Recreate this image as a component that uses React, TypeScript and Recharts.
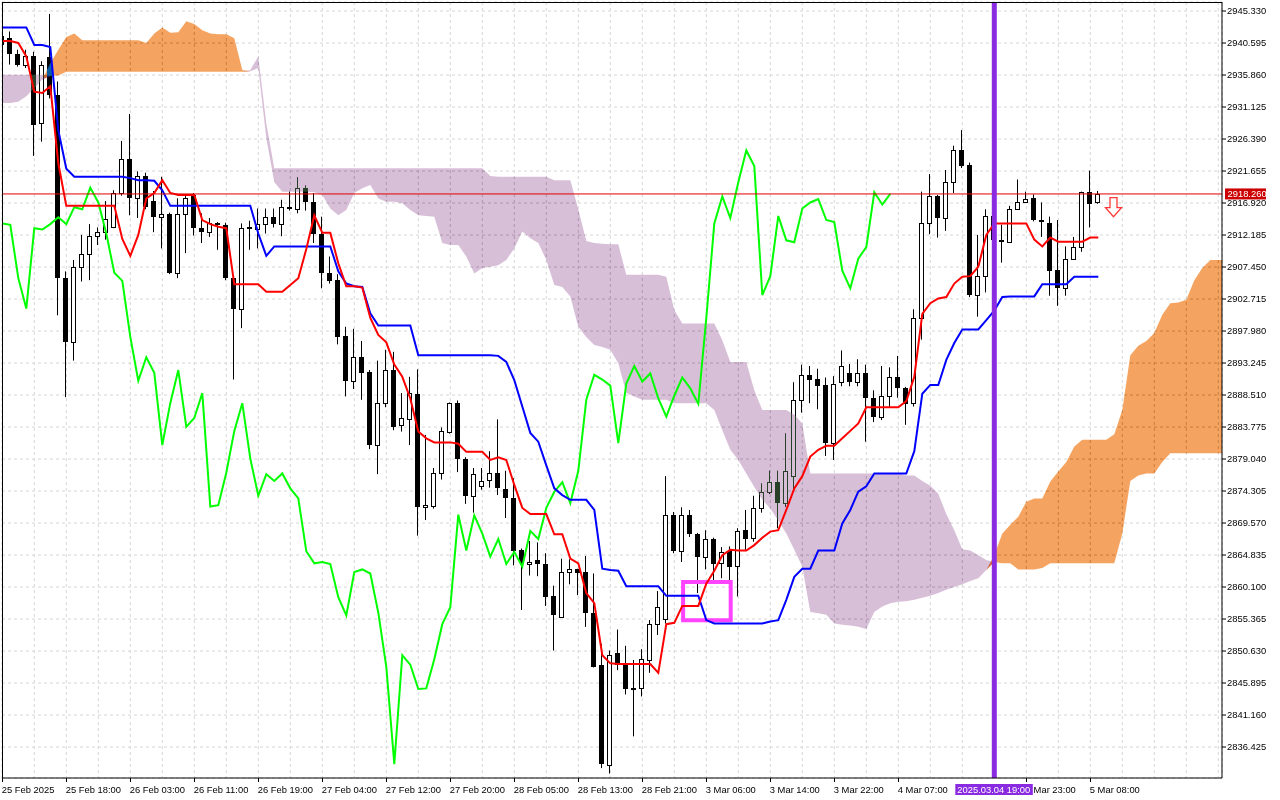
import {
  ComposedChart,
  Bar,
  Line,
  Area,
  XAxis,
  YAxis,
  CartesianGrid,
  ReferenceLine,
  ReferenceArea,
  ReferenceDot,
} from "recharts";

const FONT = '"Liberation Sans", Arial, sans-serif';

// XAUUSD H1, bar 0 = 25 Feb 2025 10:00
const opens = [
  2940.4, 2941.3, 2939.0, 2937.4, 2938.7, 2928.7, 2938.5, 2932.9, 2905.8, 2896.3,
  2907.5, 2909.3, 2912.0, 2912.6, 2913.4, 2918.4, 2923.4, 2917.7, 2920.9, 2917.2,
  2914.8, 2915.3, 2906.6, 2915.3, 2918.1, 2913.2, 2912.6, 2913.9, 2913.7, 2905.8,
  2901.3, 2913.3, 2913.0, 2913.8, 2914.8, 2913.8, 2916.3, 2916.0, 2919.2, 2917.0,
  2912.4, 2906.6, 2905.6, 2897.3, 2890.6, 2894.1, 2891.9, 2881.1, 2887.3, 2892.2,
  2884.1, 2884.9, 2888.7, 2871.9, 2872.1, 2877.0, 2883.1, 2887.3, 2879.1, 2873.6,
  2875.1, 2875.9, 2876.9, 2874.6, 2873.2, 2865.6, 2863.5, 2864.1, 2863.5, 2858.7,
  2855.7, 2862.3, 2862.7, 2862.3, 2856.3, 2848.6, 2833.8, 2850.3, 2848.6, 2845.0,
  2845.1, 2849.3, 2854.6, 2855.3, 2870.8, 2865.5, 2870.7, 2868.0, 2864.6, 2867.2,
  2863.6, 2865.4, 2863.2, 2868.5, 2867.3, 2871.8, 2874.2, 2875.6, 2872.5, 2876.5,
  2887.8, 2891.5, 2890.9, 2890.0, 2881.4, 2890.5, 2891.7, 2890.5, 2891.7, 2888.0,
  2885.2, 2888.4, 2891.1, 2889.5, 2887.3, 2899.9, 2914.0, 2917.9, 2914.7, 2920.0,
  2924.7, 2922.5, 2903.3, 2906.1, 2915.0, 2911.5, 2911.1, 2916.1, 2917.0, 2917.6,
  2914.4, 2913.9, 2907.0, 2904.3, 2908.7, 2910.4, 2918.5, 2917.0,
];
const highs = [
  2942.4, 2942.3, 2939.6, 2939.6, 2939.3, 2937.9, 2944.9, 2934.9, 2906.8, 2908.5,
  2912.2, 2913.8, 2913.3, 2917.2, 2918.8, 2926.1, 2930.1, 2921.6, 2921.4, 2918.7,
  2920.8, 2915.5, 2917.6, 2918.1, 2918.4, 2915.4, 2914.7, 2914.1, 2914.0, 2906.0,
  2913.9, 2914.3, 2916.1, 2916.1, 2916.1, 2917.4, 2918.6, 2920.7, 2919.5, 2918.4,
  2914.9, 2909.0, 2906.4, 2898.6, 2898.3, 2896.5, 2892.2, 2893.6, 2895.2, 2894.9,
  2888.8, 2891.2, 2892.3, 2882.6, 2877.7, 2883.7, 2887.4, 2887.7, 2879.3, 2877.7,
  2877.7, 2880.2, 2884.9, 2877.3, 2876.2, 2865.8, 2866.9, 2866.7, 2865.1, 2860.3,
  2864.3, 2864.2, 2862.8, 2864.7, 2862.1, 2851.7, 2850.7, 2853.8, 2851.4, 2849.3,
  2850.9, 2855.2, 2859.5, 2876.5, 2871.2, 2871.9, 2871.5, 2868.1, 2868.5, 2867.4,
  2866.0, 2866.1, 2868.8, 2871.5, 2873.6, 2875.4, 2877.3, 2877.3, 2882.8, 2890.4,
  2893.0, 2892.8, 2892.4, 2891.1, 2891.3, 2895.1, 2893.1, 2893.8, 2893.0, 2889.2,
  2892.8, 2892.6, 2894.3, 2889.7, 2901.2, 2918.6, 2921.2, 2918.1, 2921.8, 2925.4,
  2927.7, 2922.9, 2912.2, 2916.0, 2916.2, 2913.7, 2916.5, 2920.4, 2918.6, 2918.2,
  2917.0, 2914.9, 2914.4, 2910.5, 2911.9, 2918.6, 2921.7, 2918.7,
];
const lows = [
  2939.8, 2937.4, 2937.1, 2936.9, 2923.9, 2926.0, 2932.4, 2900.3, 2888.2, 2893.6,
  2905.3, 2905.5, 2910.7, 2911.5, 2913.2, 2918.0, 2915.1, 2914.7, 2916.0, 2912.6,
  2910.2, 2906.4, 2905.8, 2909.5, 2912.1, 2911.0, 2911.9, 2910.0, 2905.5, 2890.8,
  2898.4, 2910.0, 2910.2, 2912.4, 2913.3, 2912.0, 2915.8, 2915.4, 2915.8, 2911.0,
  2904.3, 2905.0, 2896.0, 2888.3, 2889.4, 2887.8, 2880.5, 2876.8, 2886.7, 2883.3,
  2883.1, 2881.1, 2867.7, 2870.0, 2871.7, 2876.0, 2882.8, 2877.1, 2872.4, 2871.1,
  2874.5, 2874.8, 2873.7, 2870.3, 2863.3, 2856.7, 2861.8, 2861.7, 2857.3, 2850.7,
  2855.6, 2860.5, 2858.9, 2854.2, 2848.2, 2833.3, 2832.5, 2847.8, 2844.2, 2838.0,
  2843.9, 2847.4, 2853.0, 2854.7, 2865.1, 2863.8, 2867.5, 2859.2, 2862.7, 2861.1,
  2861.4, 2861.1, 2858.7, 2865.6, 2866.8, 2871.1, 2873.9, 2868.8, 2872.0, 2874.2,
  2885.9, 2887.3, 2886.4, 2879.5, 2878.9, 2889.8, 2889.8, 2889.8, 2881.6, 2884.5,
  2884.8, 2886.7, 2888.1, 2884.1, 2886.8, 2896.7, 2912.3, 2911.8, 2912.8, 2918.4,
  2922.1, 2903.0, 2900.1, 2903.7, 2910.6, 2908.1, 2911.0, 2915.9, 2916.9, 2914.2,
  2911.9, 2903.2, 2901.7, 2903.2, 2908.5, 2909.7, 2913.3, 2916.8,
];
const closes = [
  2941.6, 2938.9, 2937.4, 2938.6, 2928.5, 2937.3, 2932.9, 2905.8, 2896.3, 2907.5,
  2909.3, 2912.0, 2912.6, 2914.5, 2918.4, 2923.4, 2917.7, 2920.9, 2916.4, 2914.9,
  2915.3, 2906.6, 2915.3, 2917.6, 2913.2, 2912.6, 2913.9, 2913.7, 2905.8, 2901.3,
  2913.2, 2913.0, 2913.8, 2914.8, 2913.8, 2916.3, 2916.0, 2919.2, 2917.0, 2912.4,
  2906.6, 2905.4, 2897.1, 2890.6, 2894.1, 2891.8, 2881.1, 2887.3, 2892.2, 2883.8,
  2885.1, 2888.8, 2872.0, 2872.2, 2877.0, 2883.2, 2887.3, 2879.1, 2873.6, 2876.8,
  2875.8, 2876.9, 2874.7, 2873.2, 2865.4, 2863.6, 2863.8, 2863.5, 2858.6, 2855.9,
  2862.3, 2862.7, 2862.1, 2856.3, 2848.3, 2833.9, 2850.0, 2848.6, 2845.0, 2845.1,
  2849.4, 2854.6, 2857.1, 2870.8, 2865.5, 2870.7, 2868.0, 2864.6, 2867.2, 2863.5,
  2865.3, 2863.1, 2868.4, 2867.2, 2871.8, 2874.2, 2875.6, 2872.5, 2877.3, 2887.8,
  2891.5, 2890.8, 2889.9, 2881.4, 2890.2, 2892.8, 2890.5, 2891.7, 2888.0, 2885.3,
  2888.4, 2891.1, 2889.5, 2887.2, 2899.9, 2913.9, 2917.9, 2914.7, 2920.0, 2924.7,
  2922.4, 2903.3, 2906.1, 2915.0, 2911.4, 2911.1, 2916.1, 2917.0, 2917.5, 2914.4,
  2914.1, 2906.9, 2904.3, 2908.7, 2910.4, 2918.5, 2916.7, 2918.26,
];

const tenkan = [
  2940.9, 2940.9, 2940.6, 2938.6, 2933.4, 2933.2, 2934.2, 2922.8, 2916.5, 2916.5,
  2916.5, 2916.5, 2916.5, 2916.5, 2916.5, 2911.6, 2909.1, 2912.2, 2917.6, 2918.4,
  2920.3, 2918.4, 2918.1, 2918.1, 2918.1, 2914.4, 2913.8, 2913.4, 2913.2, 2904.9,
  2904.9, 2904.9, 2904.9, 2903.8, 2903.8, 2903.8, 2904.8, 2905.8, 2910.1, 2915.1,
  2912.5, 2912.5, 2908.0, 2904.6, 2904.6, 2904.4, 2899.9, 2897.4, 2896.3, 2893.0,
  2891.2, 2888.0, 2883.1, 2882.1, 2881.5, 2881.5, 2881.5, 2881.3, 2880.1, 2880.1,
  2880.1, 2878.9, 2879.3, 2878.9, 2875.2, 2871.8, 2870.9, 2870.9, 2870.9, 2867.9,
  2867.9, 2864.3, 2863.6, 2859.2, 2857.7, 2850.0, 2848.8, 2848.7, 2848.7, 2848.7,
  2848.7, 2848.7, 2847.4, 2854.6, 2854.8, 2857.3, 2857.3, 2857.3, 2860.6, 2862.5,
  2864.8, 2865.6, 2865.5, 2865.5, 2866.3, 2867.4, 2868.3, 2868.5, 2871.5, 2874.7,
  2876.5, 2879.4, 2880.4, 2881.0, 2881.0, 2882.1, 2883.2, 2884.3, 2886.7, 2886.7,
  2886.7, 2886.7, 2886.7, 2887.6, 2891.2, 2900.5, 2902.1, 2902.8, 2903.0, 2905.0,
  2906.0, 2906.1, 2907.5, 2912.2, 2913.9, 2913.9, 2913.9, 2913.9, 2913.9, 2911.5,
  2910.5, 2911.8, 2911.2, 2911.2, 2911.2, 2911.2, 2911.8, 2911.8,
];
const kijun = [
  2942.9, 2942.9, 2942.9, 2942.9, 2940.3, 2940.3, 2940.0, 2927.7, 2922.0, 2920.8,
  2920.8, 2920.8, 2920.8, 2920.8, 2920.8, 2920.8, 2920.6, 2920.3, 2920.3, 2920.2,
  2918.8, 2916.5, 2916.5, 2916.5, 2916.5, 2916.5, 2916.5, 2916.5, 2916.5, 2916.5,
  2916.5, 2916.5, 2912.4, 2909.1, 2910.5, 2910.5, 2910.5, 2910.5, 2910.5, 2910.5,
  2910.5, 2910.5, 2906.8, 2905.0, 2904.6, 2904.5, 2900.6, 2898.8, 2898.8, 2898.8,
  2898.8, 2898.8, 2894.4, 2894.4, 2894.4, 2894.4, 2894.4, 2894.4, 2894.4, 2894.4,
  2894.4, 2894.4, 2894.3, 2893.4, 2890.7, 2886.8, 2882.9, 2881.6, 2878.1, 2874.7,
  2873.7, 2873.0, 2873.0, 2873.0, 2871.5, 2862.8, 2862.6, 2862.5, 2860.2, 2860.2,
  2860.2, 2860.2, 2860.2, 2858.8, 2858.8, 2858.8, 2858.8, 2858.8, 2855.2, 2854.7,
  2854.7, 2854.7, 2854.7, 2854.7, 2854.7, 2854.7, 2855.0, 2855.2, 2858.2, 2861.6,
  2862.8, 2862.8, 2865.5, 2865.5, 2865.5, 2869.5, 2871.5, 2874.2, 2875.0, 2876.9,
  2876.9, 2876.9, 2876.9, 2876.9, 2880.2, 2888.7, 2890.0, 2890.0, 2893.7, 2896.2,
  2898.2, 2898.2, 2898.2, 2899.6, 2901.0, 2903.0, 2903.1, 2903.1, 2903.1, 2903.1,
  2904.9, 2904.9, 2904.9, 2904.9, 2906.0, 2906.0, 2906.0, 2906.0,
];
// lagging span, drawn from bar 0 to bar 111
const chikou = [
  2913.9, 2913.7, 2905.8, 2901.3, 2913.2, 2913.0, 2913.8, 2914.8, 2913.8, 2916.3,
  2916.0, 2919.2, 2917.0, 2912.4, 2906.6, 2905.4, 2897.1, 2890.6, 2894.1, 2891.8,
  2881.1, 2887.3, 2892.2, 2883.8, 2885.1, 2888.8, 2872.0, 2872.2, 2877.0, 2883.2,
  2887.3, 2879.1, 2873.6, 2876.8, 2875.8, 2876.9, 2874.7, 2873.2, 2865.4, 2863.6,
  2863.8, 2863.5, 2858.6, 2855.9, 2862.3, 2862.7, 2862.1, 2856.3, 2848.3, 2833.9,
  2850.0, 2848.6, 2845.0, 2845.1, 2849.4, 2854.6, 2857.1, 2870.8, 2865.5, 2870.7,
  2868.0, 2864.6, 2867.2, 2863.5, 2865.3, 2863.1, 2868.4, 2867.2, 2871.8, 2874.2,
  2875.6, 2872.5, 2877.3, 2887.8, 2891.5, 2890.8, 2889.9, 2881.4, 2890.2, 2892.8,
  2890.5, 2891.7, 2888.0, 2885.3, 2888.4, 2891.1, 2889.5, 2887.2, 2899.9, 2913.9,
  2917.9, 2914.7, 2920.0, 2924.7, 2922.4, 2903.3, 2906.1, 2915.0, 2911.4, 2911.1,
  2916.1, 2917.0, 2917.5, 2914.4, 2914.1, 2906.9, 2904.3, 2908.7, 2910.4, 2918.5,
  2916.7, 2918.26,
];
// leading spans, visible from bar 0 to the right edge
const senkouA = [
  2931.7, 2931.7, 2931.9, 2932.7, 2933.9, 2935.2, 2937.6, 2939.6, 2941.5, 2942.0,
  2941.0, 2941.0, 2941.0, 2941.0, 2941.0, 2941.0, 2941.0, 2941.0, 2940.6, 2942.0,
  2942.9, 2942.1, 2942.2, 2943.8, 2943.4, 2942.5, 2942.0, 2941.9, 2941.9, 2941.3,
  2936.6, 2936.4, 2936.9, 2926.5, 2920.0, 2918.6, 2918.6, 2918.6, 2918.6, 2918.5,
  2918.1, 2916.1, 2915.1, 2915.9, 2918.4, 2919.1, 2919.6, 2917.6, 2917.1, 2917.1,
  2916.9, 2915.9, 2915.1, 2915.0, 2914.9, 2911.0, 2910.7, 2910.7, 2909.0, 2906.5,
  2907.3, 2907.5, 2907.7, 2908.5, 2910.2, 2912.7, 2911.7, 2911.0, 2908.5, 2904.8,
  2904.5, 2903.1, 2898.6, 2897.1, 2895.9, 2895.6, 2895.2, 2893.2, 2888.8, 2888.3,
  2887.8, 2887.8, 2887.8, 2887.8, 2887.3, 2887.3, 2887.3, 2887.3, 2887.3, 2886.3,
  2883.3, 2880.4, 2878.9, 2876.9, 2874.9, 2873.0, 2871.7, 2869.9, 2868.0, 2865.6,
  2863.1, 2856.4, 2856.2, 2856.0, 2854.7, 2854.5, 2854.4, 2854.2, 2853.9, 2856.4,
  2857.2, 2857.7, 2857.9, 2858.0, 2858.2, 2858.5, 2858.8, 2859.2, 2859.7, 2860.1,
  2860.5, 2861.0, 2861.4, 2862.6, 2864.8, 2868.0, 2869.3, 2870.5, 2872.7, 2873.2,
  2873.2, 2875.7, 2877.2, 2878.6, 2880.9, 2881.9, 2881.9, 2881.9, 2881.9, 2882.7,
  2886.3, 2894.4, 2895.8, 2896.5, 2897.7, 2900.4, 2902.1, 2902.2, 2902.6, 2905.5,
  2907.3, 2908.5, 2908.5, 2908.5,
];
const senkouB = [
  2935.9, 2935.9, 2935.9, 2935.9, 2935.9, 2935.9, 2935.7, 2935.8, 2936.35, 2936.35,
  2936.35, 2936.35, 2936.35, 2936.35, 2936.35, 2936.35, 2936.35, 2936.35, 2936.35, 2936.35,
  2936.35, 2936.35, 2936.35, 2936.35, 2936.35, 2936.35, 2936.35, 2936.35, 2936.35, 2936.35,
  2936.35, 2936.6, 2938.6, 2928.7, 2922.05, 2922.05, 2922.05, 2922.05, 2922.05, 2922.05,
  2922.05, 2922.05, 2922.05, 2922.05, 2922.05, 2922.05, 2922.05, 2922.05, 2922.05, 2922.05,
  2922.05, 2922.05, 2922.05, 2922.05, 2922.05, 2922.05, 2922.05, 2922.05, 2922.05, 2922.05,
  2922.05, 2920.9, 2920.8, 2920.8, 2920.8, 2920.8, 2920.8, 2920.8, 2920.8, 2920.3,
  2920.3, 2920.3, 2916.0, 2911.3, 2911.0, 2910.9, 2910.8, 2910.8, 2906.3, 2906.3,
  2906.3, 2906.3, 2906.3, 2906.0, 2901.1, 2899.1, 2899.1, 2899.1, 2899.1, 2899.1,
  2896.6, 2893.4, 2893.4, 2893.4, 2889.2, 2886.3, 2886.3, 2886.3, 2886.3, 2885.6,
  2884.3, 2876.9, 2876.9, 2876.9, 2876.9, 2876.9, 2876.9, 2876.9, 2876.9, 2876.9,
  2876.9, 2876.9, 2876.9, 2876.6, 2876.6, 2875.8, 2875.1, 2873.9, 2870.9, 2868.5,
  2865.7, 2865.5, 2864.8, 2864.1, 2863.8, 2863.6, 2863.6, 2862.7, 2862.7, 2862.7,
  2862.9, 2863.6, 2863.6, 2863.6, 2863.6, 2863.6, 2863.6, 2863.6, 2863.6, 2863.6,
  2868.0, 2875.8, 2876.6, 2876.9, 2876.9, 2878.6, 2879.9, 2879.9, 2879.9, 2879.9,
  2879.9, 2879.9, 2879.9, 2879.9,
];

// one label every 8 bars
const timeLabels = [
  "25 Feb 2025", "25 Feb 18:00", "26 Feb 03:00", "26 Feb 11:00", "26 Feb 19:00",
  "27 Feb 04:00", "27 Feb 12:00", "27 Feb 20:00", "28 Feb 05:00", "28 Feb 13:00",
  "28 Feb 21:00", "3 Mar 06:00", "3 Mar 14:00", "3 Mar 22:00", "4 Mar 07:00",
  "4 Mar 15:00", "4 Mar 23:00", "5 Mar 08:00",
];
const priceTicks = [
  2945.33, 2940.595, 2935.86, 2931.125, 2926.39, 2921.655, 2916.92, 2912.185,
  2907.45, 2902.715, 2897.98, 2893.245, 2888.51, 2883.775, 2879.04, 2874.305,
  2869.57, 2864.835, 2860.1, 2855.365, 2850.63, 2845.895, 2841.16, 2836.425,
];

const lastPrice = 2918.26;
const markerBar = 124;
const markerTime = "2025.03.04 19:00";
const arrowAt = { bar: 138.9, price: 2916.3 };
const box = { x1: 85.1, x2: 91.05, y1: 2855.17, y2: 2860.84 };

// grid every 4 bars; the marker bar goes last so its time tag is painted over the other labels
const gridTicks = Array.from({ length: 39 }, (_, k) => k * 4).filter((v) => v !== markerBar);
gridTicks.push(markerBar);

const rows = senkouA.map((a, i) => {
  const b = senkouB[i];
  const bar = i < closes.length;
  return {
    i,
    candle: bar ? [lows[i], highs[i]] : null,
    open: bar ? opens[i] : null,
    close: bar ? closes[i] : null,
    tenkan: bar ? tenkan[i] : null,
    kijun: bar ? kijun[i] : null,
    chikou: i < chikou.length ? chikou[i] : null,
    kumoUp: a >= b ? [b, a] : [a, a],
    kumoDown: b > a ? [a, b] : [b, b],
  };
});

const Candle = (props: any) => {
  const { x, y, width, height, payload } = props;
  if (!payload || payload.open == null) return null;
  const [lo, hi] = payload.candle;
  const top = Math.min(y, y + height);
  const h = Math.abs(height);
  const k = hi > lo ? h / (hi - lo) : 0;
  const yOf = (v: number) => top + (hi - v) * k;
  const cx = Math.floor(x + width / 2) + 0.5;
  const yo = yOf(payload.open);
  const yc = yOf(payload.close);
  const bTop = Math.round(Math.min(yo, yc));
  const bBot = Math.round(Math.max(yo, yc));
  const bull = payload.close >= payload.open;
  return (
    <g>
      <line x1={cx} x2={cx} y1={top} y2={top + h} stroke="#000" strokeWidth={1} />
      {bull ? (
        <rect x={cx - 2} y={bTop + 0.5} width={4} height={Math.max(bBot - bTop, 0)} fill="#fff" stroke="#000" strokeWidth={1} />
      ) : (
        <rect x={cx - 2.5} y={bTop} width={5} height={Math.max(bBot - bTop, 1)} fill="#000" />
      )}
    </g>
  );
};

const TimeTick = (props: any) => {
  const { x, y, payload } = props;
  const v = payload.value;
  if (v === markerBar) {
    return (
      <g>
        <rect x={x - 39} y={y + 6} width={77.5} height={11} fill="#8a2be2" />
        <text x={x - 0.5} y={y + 11.5} textAnchor="middle" dominantBaseline="central" fontSize={9.4} fontFamily={FONT} fill="#fff">
          {markerTime}
        </text>
      </g>
    );
  }
  if (v % 8 !== 0) return null;
  // the label just before the marker sits fully under its tag
  if (v > markerBar - 8 && v < markerBar) return null;
  const label = timeLabels[v / 8];
  if (!label) return null;
  const tx = Math.round(x) + 0.5;
  return (
    <g>
      <line x1={tx} x2={tx} y1={y} y2={y + 4} stroke="#000" strokeWidth={1} />
      <text x={x - 0.5} y={y + 11} dominantBaseline="central" fontSize={9.4} fontFamily={FONT} fill="#000">
        {label}
      </text>
    </g>
  );
};

const PriceTag = (props: any) => {
  const vb = props.viewBox || props;
  const right = vb.x + (vb.width || 0);
  const y = vb.y;
  return (
    <g>
      <rect x={right + 3} y={y - 5.5} width={41} height={11} fill="#cc0000" />
      <text x={right + 5.5} y={y} dominantBaseline="central" fontSize={9.4} fontFamily={FONT} fill="#fff">
        {lastPrice.toFixed(3)}
      </text>
    </g>
  );
};

const DownArrow = (props: any) => {
  const { cx, cy } = props;
  if (cx == null || cy == null) return null;
  const d = `M${cx - 3.5},${cy - 9.5} H${cx + 3.5} V${cy + 0.5} H${cx + 8} L${cx},${cy + 9.5} L${cx - 8},${cy + 0.5} H${cx - 3.5} Z`;
  return <path d={d} fill="#fff" stroke="#ff3838" strokeWidth={1.3} strokeLinejoin="miter" />;
};

export default function App() {
  return (
    <div style={{ position: "absolute", left: 0, top: 0, width: 1280, height: 800, background: "#fff", fontFamily: FONT }}>
      <style>{`.kumo { mix-blend-mode: difference; }`}</style>
      <ComposedChart width={1280} height={800} data={rows} margin={{ top: 2, right: 0, bottom: 0, left: 2 }}>
        <CartesianGrid stroke="#d6d6d6" strokeDasharray="3 3" fill="#fff" fillOpacity={1} />
        <XAxis
          dataKey="i"
          type="number"
          domain={[-0.0375, 152.4625]}
          allowDataOverflow
          ticks={gridTicks}
          interval={0}
          height={22}
          tickSize={0}
          tickMargin={0}
          tickLine={false}
          axisLine={{ stroke: "#000" }}
          tick={<TimeTick />}
        />
        <YAxis
          orientation="right"
          type="number"
          domain={[2831.838, 2946.662]}
          allowDataOverflow
          ticks={priceTicks}
          interval={0}
          width={58}
          tickSize={4}
          tickMargin={1}
          tickLine={{ stroke: "#000" }}
          axisLine={{ stroke: "#000" }}
          tickFormatter={(v: number) => v.toFixed(3)}
          tick={{ fontSize: 9.4, fill: "#000", fontFamily: FONT }}
        />
        <Bar dataKey="candle" barSize={5} shape={Candle} isAnimationActive={false} zIndex={50} />
        <Area dataKey="kumoUp" type="linear" className="kumo" fill="#0b5b9f" fillOpacity={1} stroke="none" dot={false} activeDot={false} isAnimationActive={false} zIndex={100} />
        <Area dataKey="kumoDown" type="linear" className="kumo" fill="#274027" fillOpacity={1} stroke="none" dot={false} activeDot={false} isAnimationActive={false} zIndex={100} />
        <Line dataKey="chikou" type="linear" stroke="#00ff00" strokeWidth={2} dot={false} activeDot={false} isAnimationActive={false} />
        <Line dataKey="kijun" type="linear" stroke="#0000ff" strokeWidth={2} dot={false} activeDot={false} isAnimationActive={false} />
        <Line dataKey="tenkan" type="linear" stroke="#ff0000" strokeWidth={2} dot={false} activeDot={false} isAnimationActive={false} />
        <ReferenceArea x1={box.x1} x2={box.x2} y1={box.y1} y2={box.y2} fill="none" fillOpacity={0} stroke="#ff44ff" strokeWidth={4} />
        <ReferenceLine y={lastPrice} stroke="#e00000" strokeWidth={1} label={(p: any) => <PriceTag {...p} />} />
        <ReferenceLine x={markerBar} stroke="#8a2be2" strokeWidth={5} />
        <ReferenceDot x={arrowAt.bar} y={arrowAt.price} r={9} shape={DownArrow} />
      </ComposedChart>
      <div
        style={{
          position: "absolute",
          left: 2,
          top: 2,
          width: 1220,
          height: 776,
          borderLeft: "1px solid #000",
          borderTop: "1px solid #000",
          boxSizing: "border-box",
          pointerEvents: "none",
        }}
      />
    </div>
  );
}
